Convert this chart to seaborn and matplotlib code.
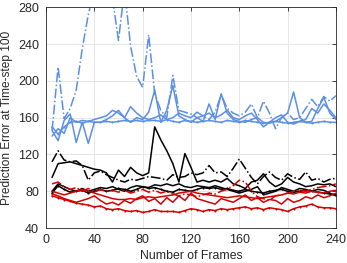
import matplotlib
matplotlib.use("Agg")
import matplotlib.pyplot as plt
import seaborn as sns
import numpy as np

frames = list(range(5, 241, 5))

blue_marker = [150,142,150,155,156,154,156,155,155,156,155,156,157,156,157,156,157,157,156,158,
               156,155,157,156,155,156,157,156,155,157,156,155,157,156,155,154,155,156,155,154,
               155,156,155,154,155,156,155,155]
blue_solid_a = [146,135,157,164,133,155,132,155,155,158,162,168,160,155,160,158,166,190,155,168,
                195,162,158,155,160,156,175,158,186,165,158,156,155,158,160,155,154,156,160,165,
                188,160,155,156,170,182,165,158]
blue_solid_b = [140,148,143,160,155,157,156,158,160,162,168,165,160,172,165,160,158,160,163,158,
                160,165,162,160,166,162,165,160,163,168,160,158,162,165,158,150,155,160,163,155,
                153,156,158,170,165,175,168,160]
blue_dashdot = [146,215,159,170,190,235,272,300,320,310,290,244,300,238,205,193,250,186,168,160,
                206,168,166,164,160,162,158,166,185,170,165,162,166,175,160,178,165,148,160,165,
                158,160,170,180,172,183,178,184]

black_marker = [78,86,82,79,80,81,78,80,82,80,81,83,82,80,82,85,83,84,82,80,
                79,82,81,80,82,84,83,84,82,83,81,80,82,80,79,78,80,81,82,80,
                79,80,81,80,79,78,77,76]
black_solid_a = [95,110,111,112,110,108,106,104,103,100,90,103,96,106,100,97,100,150,136,124,
                 110,90,121,106,90,92,90,92,90,94,88,86,83,90,92,99,90,85,88,95,
                 90,88,85,86,88,87,88,85]
black_solid_b = [80,88,85,82,80,83,80,82,84,83,85,82,80,84,86,85,84,87,86,88,
                 86,88,85,84,86,85,84,86,84,82,80,78,80,82,85,76,78,80,84,82,
                 80,83,82,80,82,81,78,75]
black_dashdot = [112,124,114,112,113,108,92,100,102,98,95,92,90,93,92,94,96,95,94,92,
                 98,95,96,100,98,100,108,100,101,96,105,115,105,95,88,96,101,95,92,99,
                 95,93,101,92,94,90,93,94]

red_marker = [75,73,71,69,67,66,65,63,64,61,60,61,59,58,59,57,58,60,58,58,
              58,57,59,61,60,58,60,59,61,60,61,62,63,61,62,60,62,61,60,58,
              61,63,64,66,63,62,62,61]
red_solid_a = [77,75,72,70,68,70,72,75,70,66,68,65,70,67,72,75,69,72,66,73,
               68,75,70,78,72,70,68,66,72,70,68,72,76,70,73,68,71,70,66,72,
               68,70,74,72,76,73,75,78]
red_solid_b = [80,78,76,78,80,82,80,78,76,74,72,71,71,72,71,73,74,73,74,75,
               76,78,79,80,78,77,76,75,74,73,74,75,74,73,72,73,74,75,76,78,
               77,79,78,80,79,78,80,81]
red_dashdot = [88,90,85,82,84,80,83,79,82,80,81,79,81,78,80,82,79,81,78,80,
               77,75,77,76,74,76,78,77,80,82,86,92,90,80,74,72,70,75,76,78,
               80,81,80,82,84,85,86,88]

x_ticks = [0, 40, 80, 120, 160, 200, 240]
y_ticks = [40, 80, 120, 160, 200, 240, 280]
x_label = "Number of Frames"
y_label = "Prediction Error at Time-step 100"

BLUE = "#5b8fe6"
BLACK = "#000000"
RED = "#d40000"

sns.set_style("white")
plt.rcParams["font.family"] = ["Liberation Sans", "DejaVu Sans"]

fig = plt.figure(figsize=(3.47, 2.63), dpi=100)
ax = fig.add_axes([0.1326, 0.133, 0.8354, 0.839])

series = [
    (blue_solid_b, BLUE, "-", None),
    (blue_solid_a, BLUE, "-", None),
    (blue_dashdot, BLUE, "-.", None),
    (blue_marker, BLUE, "-", "."),
    (black_solid_b, BLACK, "-", None),
    (black_solid_a, BLACK, "-", None),
    (black_dashdot, BLACK, "-.", None),
    (black_marker, BLACK, "-", "."),
    (red_solid_b, RED, "-", None),
    (red_solid_a, RED, "-", None),
    (red_dashdot, RED, "-.", None),
    (red_marker, RED, "-", "."),
]
for vals, col, ls, mk in series:
    kw = dict(marker=mk, markersize=3, markeredgewidth=0) if mk else {}
    sns.lineplot(x=frames, y=vals, ax=ax, color=col, linestyle=ls, linewidth=1.1,
                 estimator=None, errorbar=None, **kw)

ax.set_xlim(0, 240)
ax.set_ylim(40, 280)
ax.set_xticks(x_ticks)
ax.set_yticks(y_ticks)
ax.grid(True, color="#e6e6e6", linewidth=0.7)
ax.set_axisbelow(True)
ax.tick_params(direction="in", length=3, width=0.6, top=True, right=True,
               labelsize=9, colors="#262626")
ax.tick_params(axis="x", pad=4)
ax.tick_params(axis="y", pad=5)
for sp in ax.spines.values():
    sp.set_visible(True)
    sp.set_color("#262626")
    sp.set_linewidth(0.6)
ax.set_xlabel(x_label, fontsize=8.8, color="#262626", labelpad=3)
ax.set_ylabel(y_label, fontsize=8.6, color="#262626", labelpad=4)

fig.savefig("out.png", dpi=100)
